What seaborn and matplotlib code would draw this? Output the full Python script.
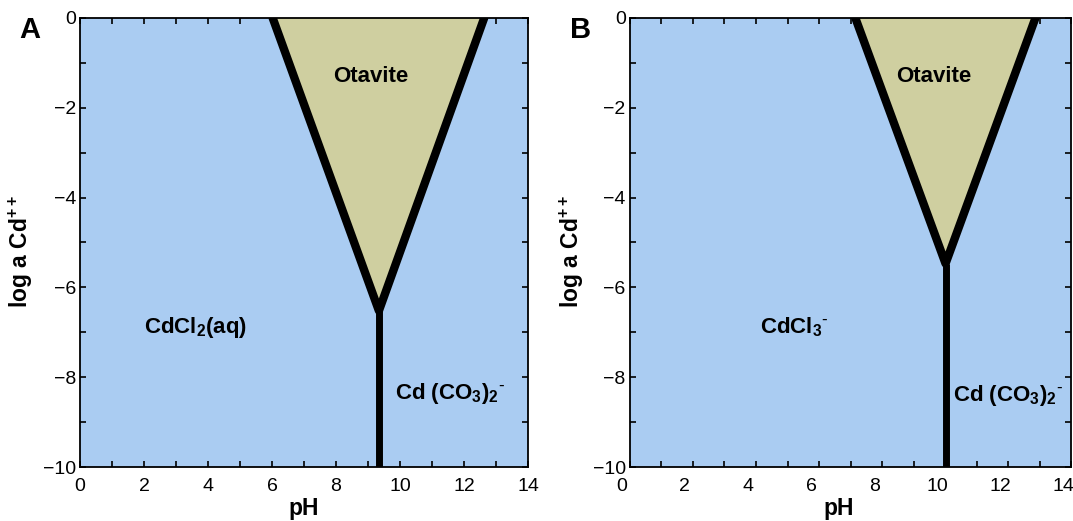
import matplotlib
matplotlib.use('Agg')
import matplotlib.pyplot as plt
import matplotlib.transforms as mtransforms
import seaborn as sns
from matplotlib.ticker import MultipleLocator

# Otavite stability field boundaries: (pH, log a Cd++)
ph_a = [6.02, 9.34, 12.63]
logcd_a = [0.0, -6.52, 0.0]
ph_b = [7.15, 10.01, 12.86]
logcd_b = [0.0, -5.47, 0.0]
y_min, y_max = -10, 0
x_min, x_max = 0, 14

# field names and where they sit
names_a = ['Otavite', r'CdCl$_2$(aq)', r'Cd (CO$_3$)$_2$${}^{\text{-}}$']
names_x_a = [9.08, 3.62, 11.57]
names_y_a = [-1.30, -6.89, -8.37]
names_b = ['Otavite', r'CdCl$_3$${}^{\text{-}}$', r'Cd (CO$_3$)$_2$${}^{\text{-}}$']
names_x_b = [9.62, 5.22, 12.0]
names_y_b = [-1.30, -6.89, -8.41]

blue = '#AACCF2'
khaki = '#CFCFA0'

sns.set_theme(style='ticks')
plt.rcParams['font.family'] = ['Liberation Sans', 'DejaVu Sans']
plt.rcParams['mathtext.fontset'] = 'custom'
plt.rcParams['mathtext.default'] = 'regular'
plt.rcParams['text.color'] = 'black'
plt.rcParams['axes.labelcolor'] = 'black'
plt.rcParams['xtick.color'] = 'black'
plt.rcParams['ytick.color'] = 'black'

fig = plt.figure(figsize=(10.73, 5.21), dpi=100)
ax_a = fig.add_axes([0.0746, 0.1036, 0.4175, 0.8619])
ax_b = fig.add_axes([0.5870, 0.1036, 0.4115, 0.8619])

panels = [
    (ax_a, 'A', ph_a, logcd_a, names_a, names_x_a, names_y_a, 0.5),
    (ax_b, 'B', ph_b, logcd_b, names_b, names_x_b, names_y_b, 0.474),
]

for ax, letter, ph, logcd, names, nx, ny, xlab_pos in panels:
    ax.set_facecolor(blue)
    ax.fill(ph, logcd, color=khaki, zorder=1)
    sns.lineplot(x=ph, y=logcd, ax=ax, color='black', lw=6,
                 sort=False, estimator=None, zorder=3)
    ax.vlines(ph[1], y_min, logcd[1], color='black', lw=5, zorder=3)

    for name, x, y in zip(names, nx, ny):
        ax.text(x, y, name, ha='center', va='center', fontsize=16,
                fontweight='bold', zorder=4)

    ax.set_xlim(x_min, x_max)
    ax.set_ylim(y_min, y_max)
    ax.xaxis.set_major_locator(MultipleLocator(2))
    ax.xaxis.set_minor_locator(MultipleLocator(1))
    ax.yaxis.set_major_locator(MultipleLocator(2))
    ax.yaxis.set_minor_locator(MultipleLocator(1))
    ax.tick_params(which='both', direction='in', top=True, right=True,
                   length=4, width=1.2, color='black', labelsize=14)
    ax.tick_params(axis='x', pad=8)
    ax.tick_params(axis='y', pad=3)
    for s in ax.spines.values():
        s.set_linewidth(1.3)
        s.set_color('black')
        s.set_zorder(5)

    ax.set_xlabel('pH', fontsize=16.5, fontweight='bold')
    ax.set_ylabel(r'log a Cd$^{++}$', fontsize=16.5, fontweight='bold')
    ax.xaxis.set_label_coords(xlab_pos, -0.066)
    ax.yaxis.set_label_coords(-0.100, 0.481)

    ax.text(-0.112, 0.973, letter, transform=ax.transAxes, fontsize=21,
            fontweight='bold', ha='center', va='center')

# panel B's tick numbers sit a little left of their ticks in the original
shift = mtransforms.ScaledTranslation(-0.08, 0, fig.dpi_scale_trans)
for lab in ax_b.get_xticklabels():
    lab.set_transform(lab.get_transform() + shift)

fig.savefig('out.png', dpi=100)
